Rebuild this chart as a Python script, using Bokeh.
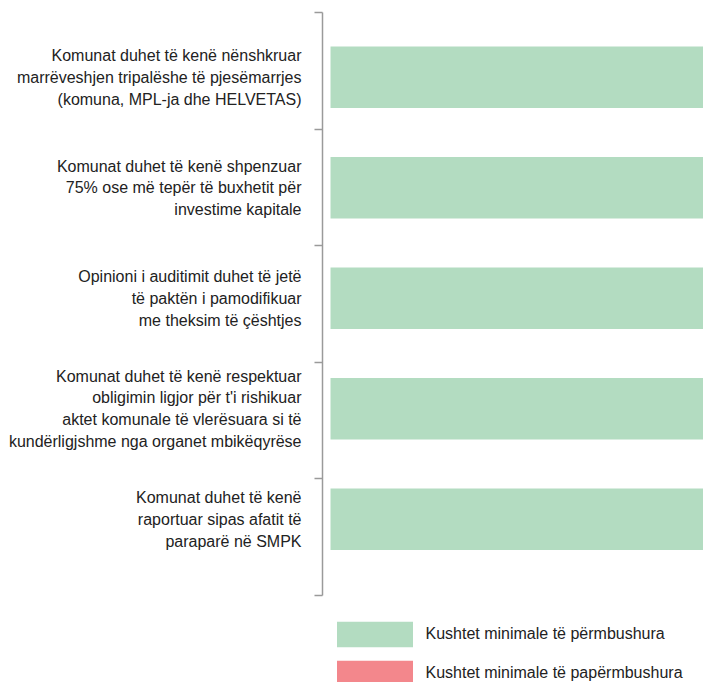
import numpy as np
from bokeh.plotting import figure
from bokeh.models import Range1d, FixedTicker, Legend, LegendItem, ColumnDataSource
from bokeh.embed import file_html
from bokeh.resources import INLINE

# ---- data ----
categories = [
    "Komunat duhet të kenë nënshkruar\nmarrëveshjen tripalëshe të pjesëmarrjes\n(komuna, MPL-ja dhe HELVETAS)",
    "Komunat duhet të kenë shpenzuar\n75% ose më tepër të buxhetit për\ninvestime kapitale",
    "Opinioni i auditimit duhet të jetë\ntë paktën i pamodifikuar\nme theksim të çështjes",
    "Komunat duhet të kenë respektuar\nobligimin ligjor për t'i rishikuar\naktet komunale të vlerësuara si të\nkundërligjshme nga organet mbikëqyrëse",
    "Komunat duhet të kenë\nraportuar sipas afatit të\nparaparë në SMPK",
]
met = [1, 1, 1, 1, 1]
not_met = [0, 0, 0, 0, 0]
legend_labels = ["Kushtet minimale të përmbushura", "Kushtet minimale të papërmbushura"]
colors = ["#b3dcc1", "#f3878c"]

FONT = "Liberation Sans"
TXT = "#222222"

n = len(categories)
pos = list(range(n))
top_pad, bottom_pad, legend_pad = 0.586, 0.69, 0.787
axis_top, axis_bottom = -top_pad, n - 1 + bottom_pad

src = ColumnDataSource(dict(y=pos, met=met, not_met=not_met))

p = figure(width=703, height=682, output_backend="svg", toolbar_location=None,
           x_range=Range1d(-0.0215, 1), y_range=Range1d(axis_bottom + legend_pad, axis_top),
           x_axis_location=None, min_border_left=322, min_border_right=0,
           min_border_top=12, min_border_bottom=0)
p.outline_line_color = None
p.xgrid.visible = False
p.ygrid.visible = False

rs = p.hbar_stack(["met", "not_met"], y="y", height=0.558, color=colors, source=src, line_color=None)

ax = p.yaxis[0]
ax.bounds = (axis_top, axis_bottom)
ax.ticker = FixedTicker(ticks=pos, minor_ticks=list(np.linspace(axis_top, axis_bottom, n + 1)))
ax.major_label_overrides = {i: c for i, c in zip(pos, categories)}
ax.major_tick_out = 0
ax.major_tick_in = 0
ax.minor_tick_out = 8
ax.minor_tick_in = 0
ax.minor_tick_line_color = "#9a9a9a"
ax.minor_tick_line_width = 1.5
ax.axis_line_color = "#9a9a9a"
ax.axis_line_width = 1.5
ax.major_label_standoff = 13
ax.major_label_text_font = FONT
ax.major_label_text_font_size = "16px"
ax.major_label_text_color = TXT
ax.major_label_text_line_height = 1.28

legend = Legend(items=[LegendItem(label=l, renderers=[r]) for l, r in zip(legend_labels, rs)],
                location=(4.5, -6.5), orientation="vertical",
                glyph_width=95, glyph_height=32, spacing=7, padding=0, margin=0,
                label_standoff=4, label_text_font=FONT, label_text_font_size="16px",
                label_text_color=TXT, border_line_color=None, background_fill_alpha=0)
p.add_layout(legend, "center")

open("out.html", "w").write(file_html(p, INLINE))
